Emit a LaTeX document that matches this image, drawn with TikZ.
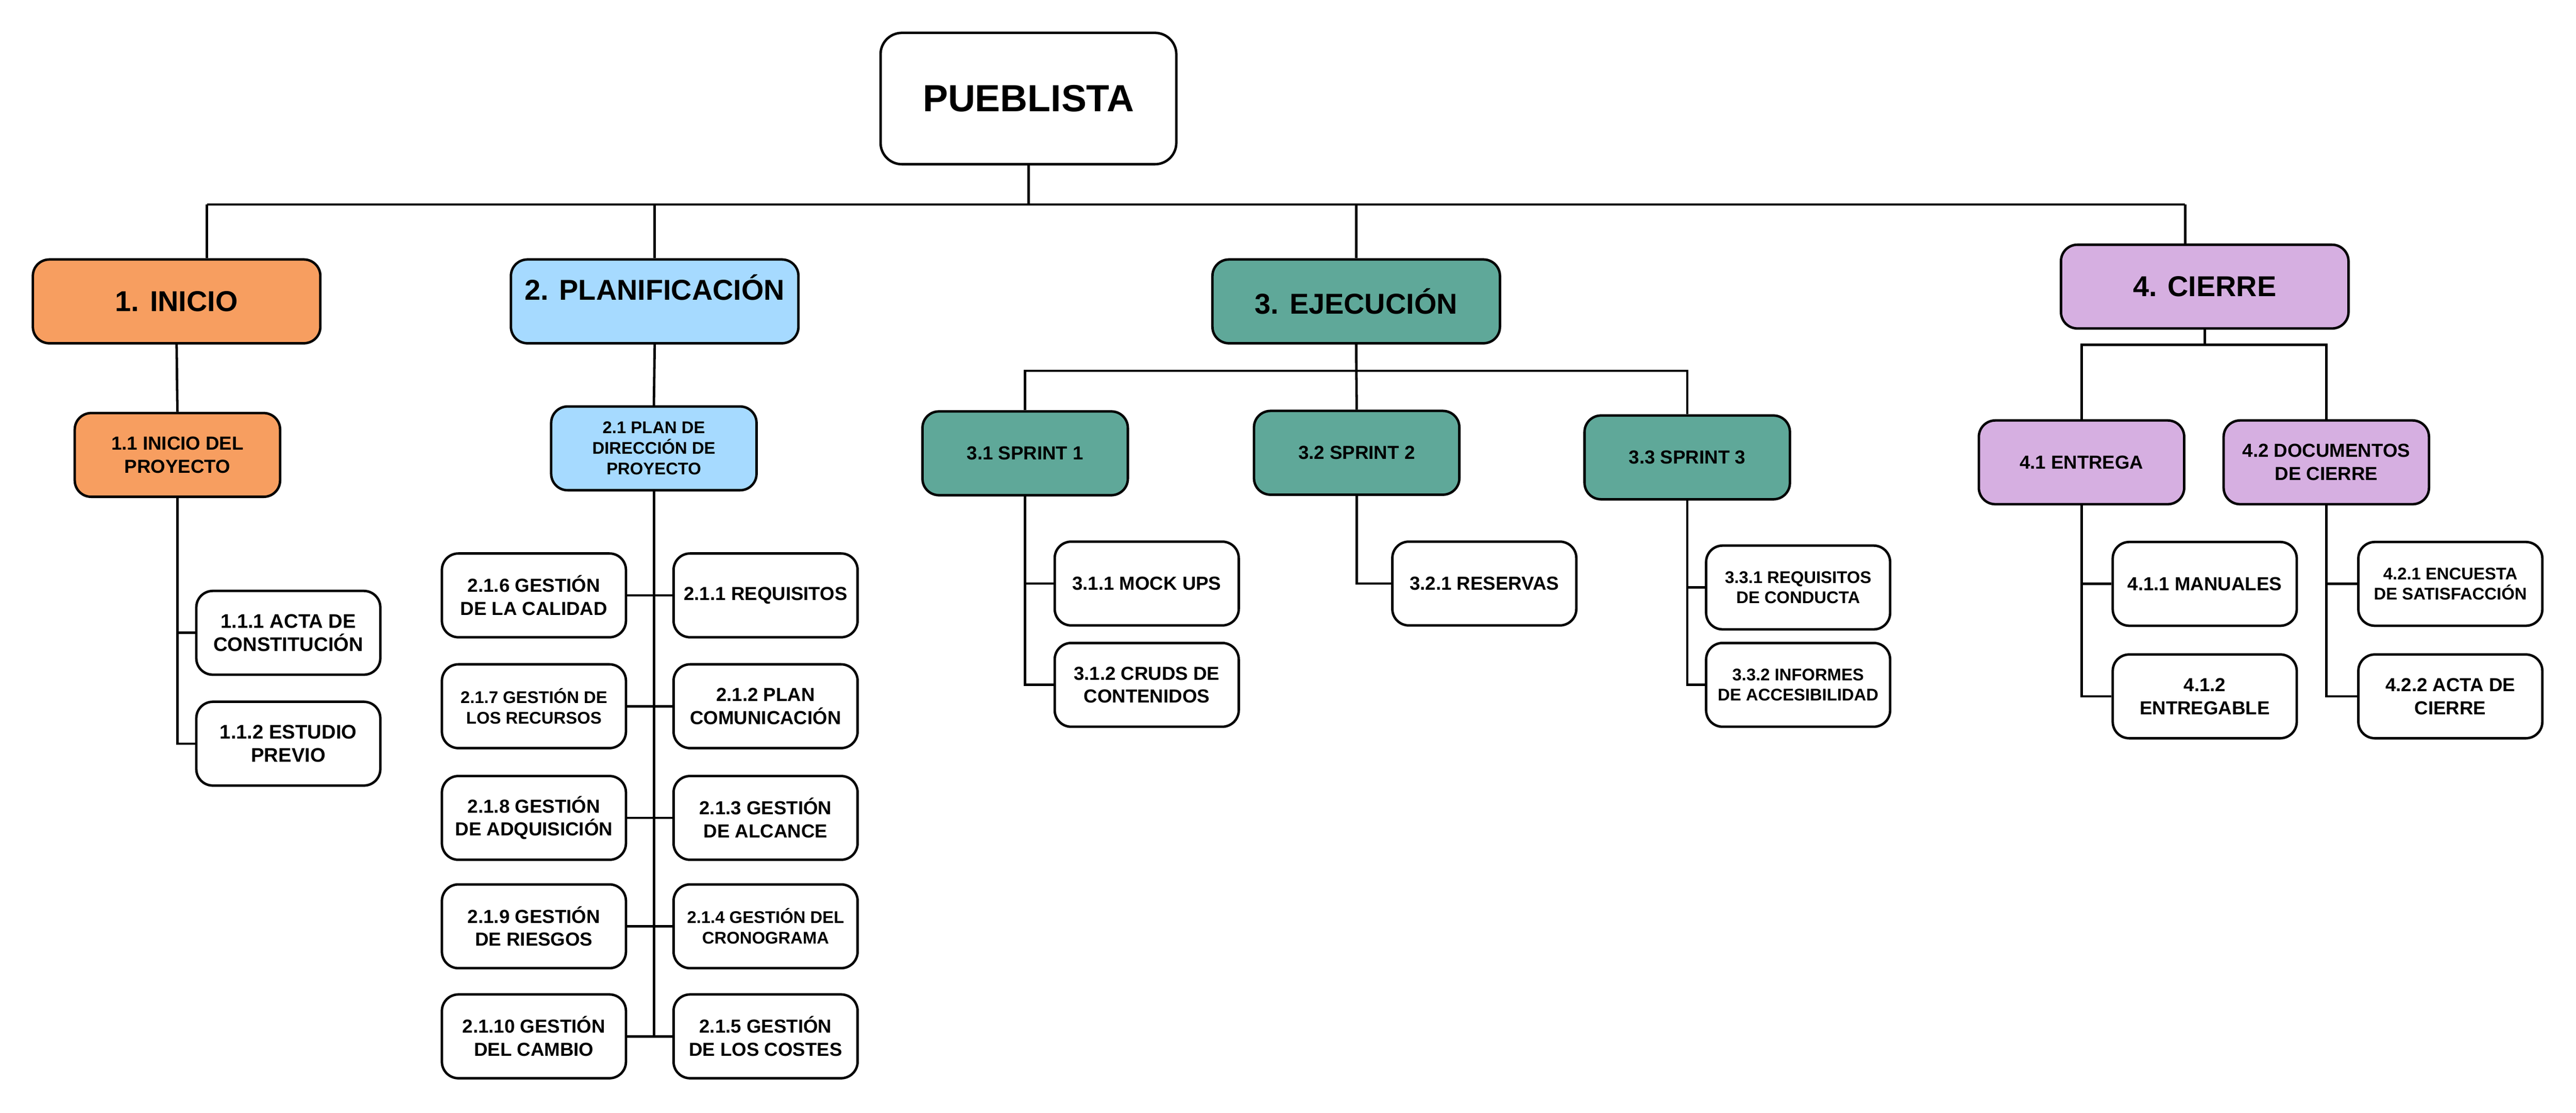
\documentclass[tikz,border=0pt]{standalone}
\usepackage{fontspec}
\setmainfont{Liberation Sans}

\definecolor{iniciofill}{HTML}{F79E60}
\definecolor{planfill}{HTML}{A6DAFF}
\definecolor{ejecfill}{HTML}{5FA899}
\definecolor{cierrefill}{HTML}{D6AFE1}

\begin{document}
\begin{tikzpicture}[x=1pt,y=-1pt,
  box/.style={draw, line width=1.5pt, rounded corners=10pt, inner sep=0pt, align=center, fill=white},
  rootbox/.style={box, rounded corners=13pt, minimum width=180pt, minimum height=80pt, font=\bfseries\fontsize{23}{27}\selectfont},
  phasebox/.style={box, minimum width=175pt, minimum height=51pt, font=\bfseries\fontsize{17.5}{21}\selectfont},
  subbox/.style={box, minimum width=125pt, minimum height=51pt, font=\bfseries\fontsize{11.5}{14}\selectfont},
  leafbox/.style={box, minimum width=112pt, minimum height=51pt, font=\bfseries\fontsize{11.5}{14}\selectfont},
  smalltext/.style={font=\bfseries\fontsize{10.3}{12.5}\selectfont},
  linkline/.style={line width=1.5pt}]

  \fill[white] (0,0) rectangle (1568,677.4);
  \useasboundingbox (0,0) rectangle (1568,677.4);

  % --- root ---
  \node[rootbox] (root) at (626,60) {PUEBLISTA};

  % --- phases ---
  \node[phasebox, fill=iniciofill] (inicio) at (107.5,183.5) {1. INICIO};
  \node[phasebox, fill=planfill, text depth=17pt] (plan) at (398.5,183.5) {2. PLANIFICACIÓN};
  \node[phasebox, fill=ejecfill] (ejec) at (825.5,183.5) {3. EJECUCIÓN};
  \node[phasebox, fill=cierrefill] (cierre) at (1342,174.5) {4. CIERRE};

  % --- top bus ---
  \coordinate (tl) at (126,124.5);
  \coordinate (tr) at (1330,124.5);
  \draw[linkline] (root.south) -- (root.south |- tl);
  \draw[linkline] (tl) -- (tr);
  \draw[linkline] (tl) -- (tl |- inicio.north);
  \draw[linkline] (plan.north) -- (plan.north |- tl);
  \draw[linkline] (ejec.north) -- (ejec.north |- tl);
  \draw[linkline] (tr) -- (tr |- cierre.north);

  % --- 1. inicio ---
  \node[subbox, fill=iniciofill] (ini1) at (108,277) {1.1 INICIO DEL\\PROYECTO};
  \node[leafbox, font=\bfseries\fontsize{12}{14.3}\selectfont] (ini11) at (175.5,385.3) {1.1.1 ACTA DE\\CONSTITUCIÓN};
  \node[leafbox, font=\bfseries\fontsize{12}{14.3}\selectfont] (ini12) at (175.5,452.8) {1.1.2 ESTUDIO\\PREVIO};
  \draw[linkline] (inicio.south) -- (ini1.north);
  \draw[linkline] (ini1.south) |- (ini11.west);
  \draw[linkline] (ini1.south) |- (ini12.west);

  % --- 2. planificacion ---
  \node[subbox, smalltext, fill=planfill] (plan1) at (398,273) {2.1 PLAN DE\\DIRECCIÓN DE\\PROYECTO};
  \node[leafbox] (pl6) at (325,362.5) {2.1.6 GESTIÓN\\DE LA CALIDAD};
  \node[leafbox, smalltext] (pl7) at (325,430) {2.1.7 GESTIÓN DE\\LOS RECURSOS};
  \node[leafbox] (pl8) at (325,498) {2.1.8 GESTIÓN\\DE ADQUISICIÓN};
  \node[leafbox] (pl9) at (325,564) {2.1.9 GESTIÓN\\DE RIESGOS};
  \node[leafbox] (pl10) at (325,631) {2.1.10 GESTIÓN\\DEL CAMBIO};
  \node[leafbox] (pl1) at (466,362.5) {2.1.1 REQUISITOS};
  \node[leafbox] (pl2) at (466,430) {2.1.2 PLAN\\COMUNICACIÓN};
  \node[leafbox] (pl3) at (466,498) {2.1.3 GESTIÓN\\DE ALCANCE};
  \node[leafbox, smalltext] (pl4) at (466,564) {2.1.4 GESTIÓN DEL\\CRONOGRAMA};
  \node[leafbox] (pl5) at (466,631) {2.1.5 GESTIÓN\\DE LOS COSTES};
  \draw[linkline] (plan.south) -- (plan1.north);
  \draw[linkline] (plan1.south) -- (plan1.south |- pl5.west);
  \draw[linkline] (pl6.east) -- (pl1.west);
  \draw[linkline] (pl7.east) -- (pl2.west);
  \draw[linkline] (pl8.east) -- (pl3.west);
  \draw[linkline] (pl9.east) -- (pl4.west);
  \draw[linkline] (pl10.east) -- (pl5.west);

  % --- 3. ejecucion ---
  \node[subbox, fill=ejecfill] (sp1) at (624,276) {3.1 SPRINT 1};
  \node[subbox, fill=ejecfill] (sp2) at (825.8,275.7) {3.2 SPRINT 2};
  \node[subbox, fill=ejecfill] (sp3) at (1027,278.5) {3.3 SPRINT 3};
  \coordinate (ebus) at (825.5,225.8);
  \draw[linkline] (ejec.south) -- (sp2.north);
  \draw[linkline] (sp1.north) -- (sp1.north |- ebus) -- (sp3.north |- ebus) -- (sp3.north);

  \node[leafbox] (sp11) at (698,355.3) {3.1.1 MOCK UPS};
  \node[leafbox] (sp12) at (698,417) {3.1.2 CRUDS DE\\CONTENIDOS};
  \node[leafbox] (sp21) at (903.5,355.3) {3.2.1 RESERVAS};
  \node[leafbox, smalltext] (sp31) at (1094.5,357.7) {3.3.1 REQUISITOS\\DE CONDUCTA};
  \node[leafbox, smalltext] (sp32) at (1094.5,417) {3.3.2 INFORMES\\DE ACCESIBILIDAD};
  \draw[linkline] (sp1.south) |- (sp11.west);
  \draw[linkline] (sp1.south) |- (sp12.west);
  \draw[linkline] (sp2.south) |- (sp21.west);
  \draw[linkline] (sp3.south) |- (sp31.west);
  \draw[linkline] (sp3.south) |- (sp32.west);

  % --- 4. cierre ---
  \node[subbox, fill=cierrefill] (ent) at (1267,281.5) {4.1 ENTREGA};
  \node[subbox, fill=cierrefill] (doc) at (1416,281.5) {4.2 DOCUMENTOS\\DE CIERRE};
  \coordinate (cbus) at (1342,210);
  \draw[linkline] (cierre.south) -- (cierre.south |- cbus);
  \draw[linkline] (ent.north) -- (ent.north |- cbus) -- (doc.north |- cbus) -- (doc.north);

  \node[leafbox] (ent1) at (1342,355.5) {4.1.1 MANUALES};
  \node[leafbox] (ent2) at (1342,424) {4.1.2\\ENTREGABLE};
  \node[leafbox, smalltext] (doc1) at (1491.5,355.5) {4.2.1 ENCUESTA\\DE SATISFACCIÓN};
  \node[leafbox] (doc2) at (1491.5,424) {4.2.2 ACTA DE\\CIERRE};
  \draw[linkline] (ent.south) |- (ent1.west);
  \draw[linkline] (ent.south) |- (ent2.west);
  \draw[linkline] (doc.south) |- (doc1.west);
  \draw[linkline] (doc.south) |- (doc2.west);

\end{tikzpicture}
\end{document}
